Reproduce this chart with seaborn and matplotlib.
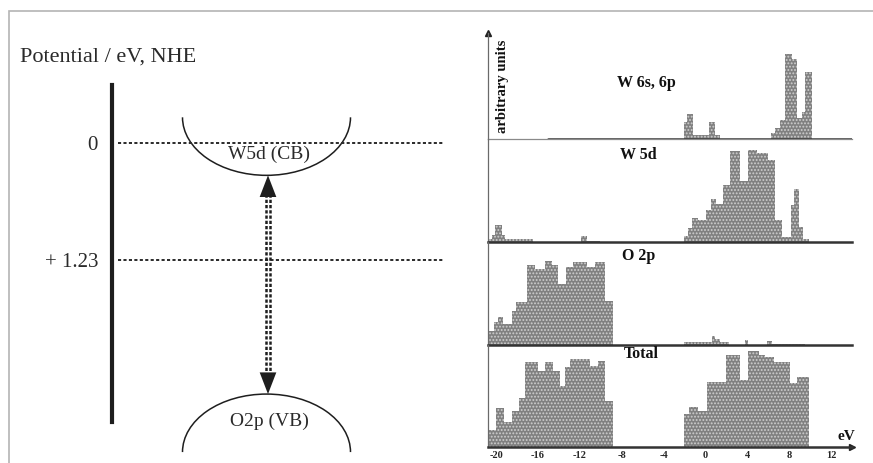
import matplotlib.pyplot as plt
import seaborn as sns
from matplotlib.patches import Arc, Rectangle

# --- diagrama de bandas (potencial vs NHE, em eV) ---
potential_levels = [0.0, 1.23]
level_labels = ['0', '+ 1.23']
cb_edge = 0.34      # fundo da banda de condução W5d
vb_edge = 2.64      # topo da banda de valência O2p
band_depth = 0.61   # profundidade das "cuias" desenhadas

# --- DOS parciais: bordas dos degraus (eV) e alturas (u.a.) ---
w6s_edges = [-2.05, -1.75, -1.15, 0.3, 0.9, 1.4, 6.3, 6.65, 7.1, 7.6, 8.25, 8.7, 9.2, 9.5, 10.15]
w6s_dos = [17, 25, 4, 17, 4, 0, 6, 11, 19, 85, 80, 21, 27, 67]

w5d_edges = [-20.75, -20.4, -20.1, -19.45, -19.15, -16.45, -11.9, -11.35, -10.05,
             -2.1, -1.7, -1.3, -0.7, 0.05, 0.55, 1.0, 1.65, 2.3, 3.3, 4.1, 4.95,
             6.0, 6.65, 7.3, 8.15, 8.45, 8.9, 9.35, 9.85]
w5d_dos = [3, 7, 17, 7, 3, 0, 6, 1, 0,
           6, 14, 24, 22, 32, 43, 38, 57, 91, 61, 92, 89,
           82, 22, 5, 37, 53, 15, 3]

o2p_edges = [-20.8, -20.25, -19.8, -19.3, -18.5, -18.1, -17.05, -16.25, -15.3, -14.7,
             -14.05, -13.3, -12.7, -11.35, -10.55, -9.6, -8.85,
             -2.1, 0.6, 0.9, 1.4, 2.2, 3.75, 4.1, 5.85, 6.35, 9.5]
o2p_dos = [14, 23, 28, 21, 34, 43, 80, 76, 84, 80, 61, 78, 83, 78, 83, 44,
           0, 3, 9, 6, 3, 0, 5, 0, 4, 1.5]

total_edges = [-20.8, -20.0, -19.25, -18.5, -17.85, -17.2, -16.05, -15.3, -14.55, -13.9,
               -13.4, -12.9, -11.0, -10.25, -9.6, -8.85,
               -2.1, -1.6, -0.7, 0.1, 2.0, 3.3, 4.1, 5.15, 5.7, 6.5, 8.1, 8.7, 9.85]
total_dos = [17, 39, 25, 36, 49, 85, 76, 85, 76, 61, 80, 88, 81, 86, 46,
             0, 33, 40, 36, 65, 92, 67, 96, 92, 90, 85, 64, 70]

panel_names = ['W 6s, 6p', 'W 5d', 'O 2p', 'Total']
panel_edges = [w6s_edges, w5d_edges, o2p_edges, total_edges]
panel_dos = [w6s_dos, w5d_dos, o2p_dos, total_dos]
energy_ticks = [-20, -16, -12, -8, -4, 0, 4, 8, 12]
w6s_baseline_start = -15.0

sns.set_theme(style='white')
plt.rcParams['font.family'] = ['Liberation Serif', 'DejaVu Serif']
plt.rcParams['axes.unicode_minus'] = False
plt.rcParams['hatch.linewidth'] = 0.9

W, H = 873, 463
fig = plt.figure(figsize=(8.73, 4.63), dpi=100)
ink = '#1e1e1e'

# moldura cinza (topo e esquerda)
fig.add_artist(Rectangle((9 / W, -0.1), 1.2, 1.1 - 11 / H, transform=fig.transFigure,
                         fill=False, edgecolor='#b4b4b4', lw=1.2))

# ---------------- painel esquerdo ----------------
px_per_ev = 95.1
y_top = (11 - 143) / px_per_ev
y_bot = (463 - 143) / px_per_ev
axl = fig.add_axes([0, 0, 470 / W, 452 / H])
axl.set_xlim(0, 470)
axl.set_ylim(y_bot, y_top)
axl.patch.set_alpha(0)
for s in ['top', 'right', 'bottom']:
    axl.spines[s].set_visible(False)
axl.spines['left'].set_position(('data', 112))
axl.spines['left'].set_bounds(-0.61, 2.93)
axl.spines['left'].set_linewidth(3.0)
axl.spines['left'].set_color(ink)
axl.set_xticks([])
axl.set_yticks(potential_levels, level_labels)
axl.tick_params(axis='y', direction='in', length=5, width=1.2, color=ink,
                labelsize=15, labelcolor='#2a2a2a', pad=10)

axl.hlines(potential_levels, 118, 443, colors='#2a2a2a', lw=1.4,
           linestyles=[(0, (1.6, 1.2))])

band_x, band_w = 266.5, 168
axl.add_patch(Arc((band_x, cb_edge - band_depth), band_w, 2 * band_depth,
                  theta1=0, theta2=180, color=ink, lw=1.1))
axl.add_patch(Arc((band_x, vb_edge + band_depth), band_w, 2 * band_depth,
                  theta1=180, theta2=360, color=ink, lw=1.1, clip_on=False))
axl.text(band_x + 2, cb_edge - 0.22, 'W5d (CB)', ha='center', va='center',
         fontsize=14, color='#2a2a2a')
axl.text(band_x + 3, vb_edge + 0.29, 'O2p (VB)', ha='center', va='center',
         fontsize=14, color='#2a2a2a')
axl.text(20, -0.905, 'Potential / eV, NHE', ha='left', va='center',
         fontsize=16, color='#2a2a2a')

# seta tracejada dupla (gap) - duas colunas de traços, como no original
head = 0.2
for dx in (-0.5, 3.5):
    axl.plot([band_x + dx] * 2, [cb_edge + head, vb_edge - head], color=ink, lw=1.8,
             dashes=(1.3, 0.8))
arrow_kw = dict(arrowstyle='-|>,head_length=1.3,head_width=0.5', color=ink, lw=0,
                shrinkA=0, shrinkB=0)
axl.annotate('', xy=(band_x + 1.5, cb_edge), xytext=(band_x + 1.5, cb_edge + head),
             arrowprops=arrow_kw)
axl.annotate('', xy=(band_x + 1.5, vb_edge), xytext=(band_x + 1.5, vb_edge - head),
             arrowprops=arrow_kw)

# ---------------- painel direito (DOS) ----------------
x0, x1 = 488, 852
xlim = (-20.78, 14.0)
baselines = [139, 242, 345, 447]
tops = [33, 139, 242, 345]
title_pos = [(0.434, 0.528), (0.412, 0.845), (0.415, 0.864), (0.42, 0.912)]

axes = []
for i in range(4):
    hpx = baselines[i] - tops[i]
    ax = fig.add_axes([x0 / W, 1 - baselines[i] / H, (x1 - x0) / W, hpx / H])
    ax.patch.set_alpha(0)
    edges = panel_edges[i]
    mids = [(a + b) / 2 for a, b in zip(edges[:-1], edges[1:])]
    sns.histplot(x=mids, weights=panel_dos[i], bins=edges, stat='count',
                 element='bars', ax=ax, facecolor='#808080', edgecolor='#cfcfcf',
                 linewidth=0, hatch='.....', alpha=1)
    ax.set_xlim(*xlim)
    ax.set_ylim(0, hpx)
    ax.set_xlabel('')
    ax.set_ylabel('')
    ax.set_yticks([])
    for s in ['top', 'right']:
        ax.spines[s].set_visible(False)
    ax.spines['left'].set_color('#6a6a6a')
    ax.spines['left'].set_linewidth(0.9)
    ax.spines['bottom'].set_color('#333333')
    ax.spines['bottom'].set_linewidth(1.8)
    ax.text(*title_pos[i], panel_names[i], transform=ax.transAxes, ha='center',
            va='center', fontsize=11.5, fontweight='bold', color='#111111')
    if i < 3:
        ax.set_xticks([])
    axes.append(ax)

ax1 = axes[0]
ax1.spines['bottom'].set_color('#8a8a8a')
ax1.spines['bottom'].set_linewidth(0.9)
ax1.axhline(0, xmin=(w6s_baseline_start - xlim[0]) / (xlim[1] - xlim[0]),
            color='#333333', lw=1.8)
ax1.plot(0, 1, '^', transform=ax1.transAxes, ms=4, color='#222222', clip_on=False)
ax1.text(0.041, 0.5, 'arbitrary units', transform=ax1.transAxes, rotation=90,
         ha='center', va='center', fontsize=10.5, fontweight='bold', color='#111111')

ax4 = axes[3]
ax4.set_xticks(energy_ticks)
ax4.tick_params(axis='x', direction='out', length=2.5, width=1, color='#333333',
                pad=0.5, labelsize=7.5)
for lab in ax4.get_xticklabels():
    lab.set_fontweight('bold')
ax4.plot(1, 0, '>', transform=ax4.transAxes, ms=4, color='#222222', clip_on=False)
ax4.text(0.985, 0.1, 'eV', transform=ax4.transAxes, ha='center', va='center',
         fontsize=11, fontweight='bold', color='#111111')

plt.savefig('out.png', dpi=100)
